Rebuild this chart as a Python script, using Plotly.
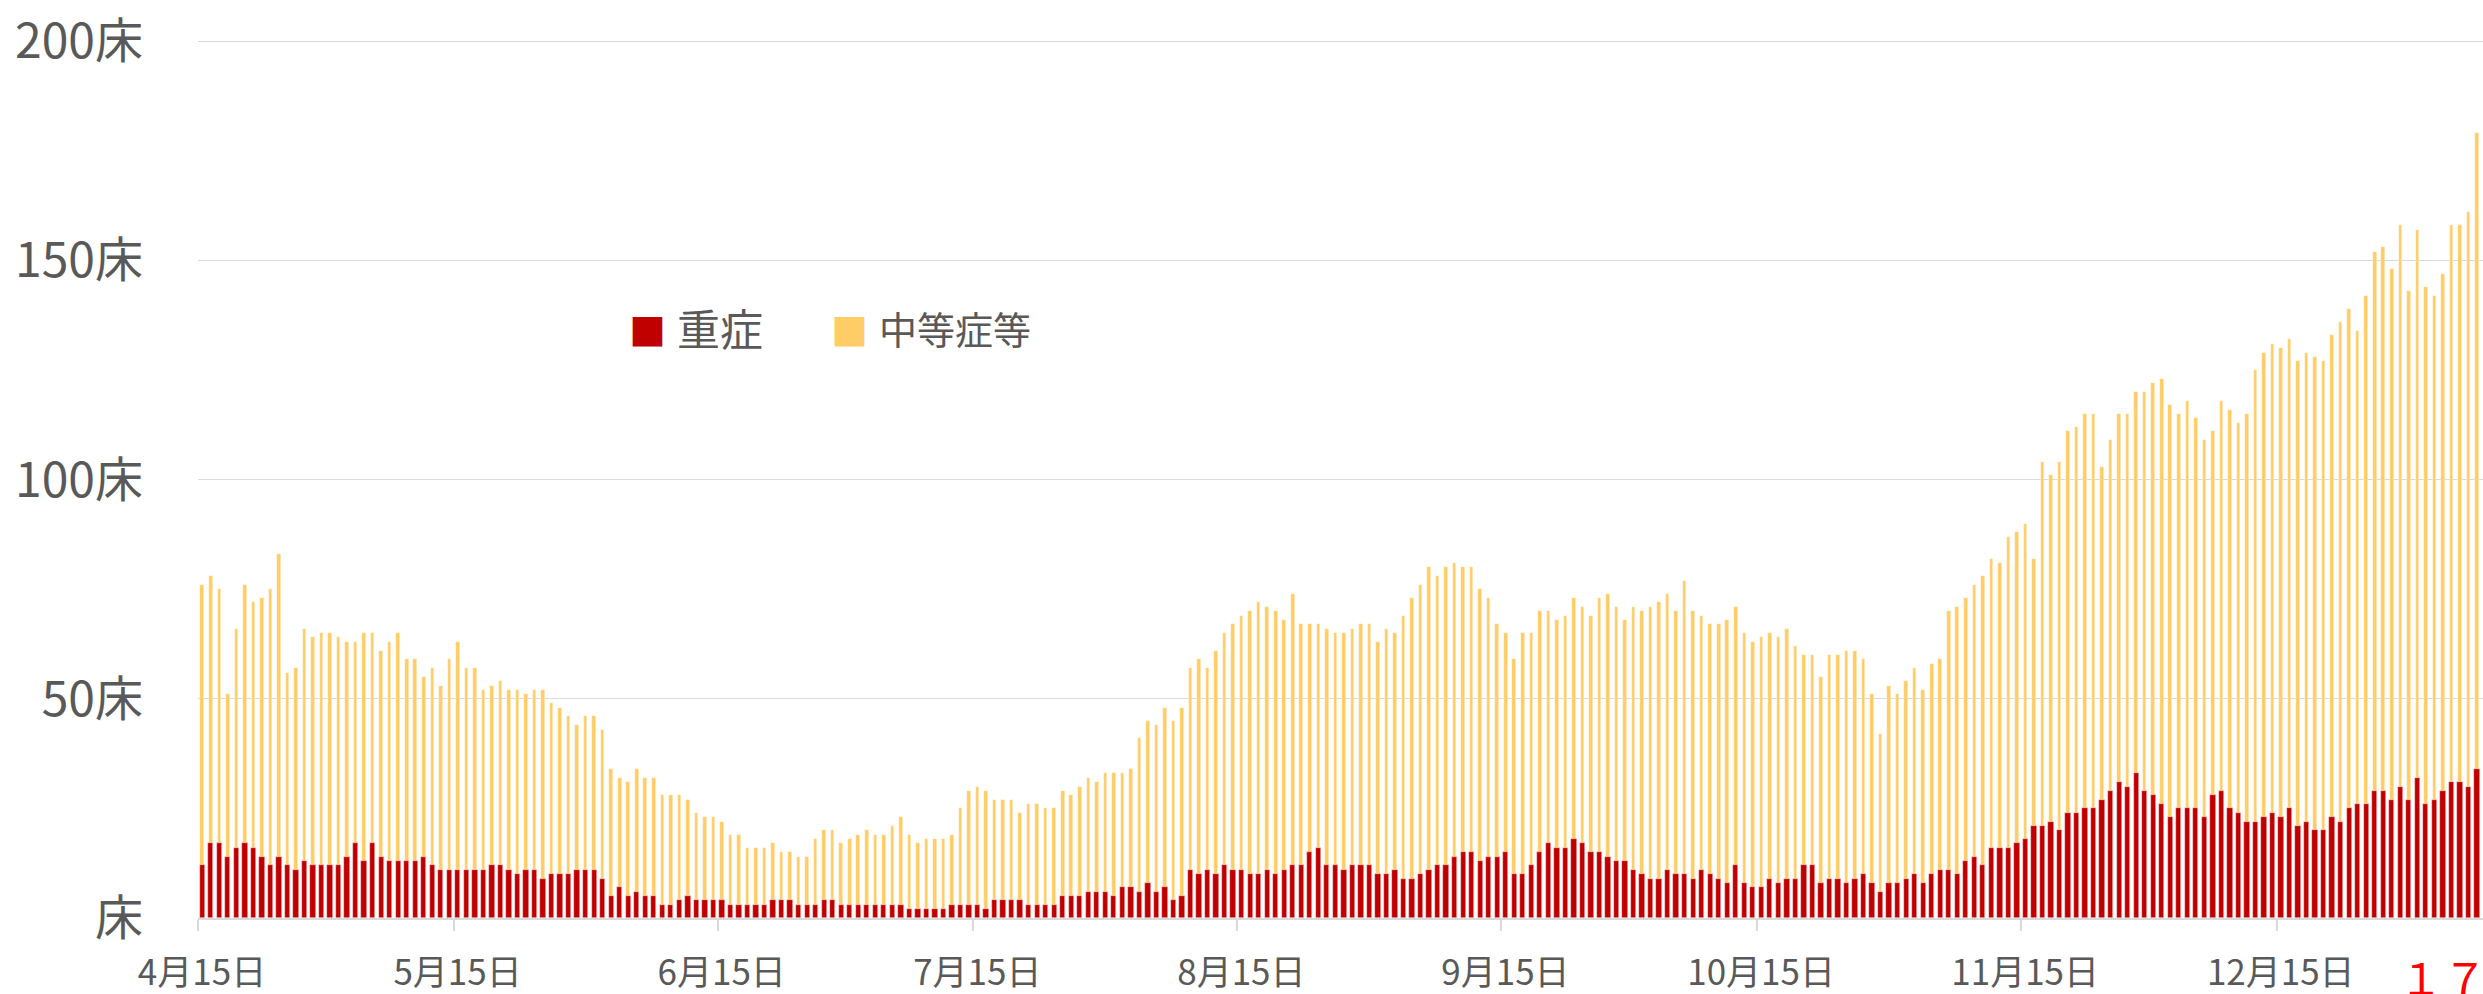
import pandas as pd
import plotly.graph_objects as go

# 重症 (severe) beds per day, from 2020-04-15
severe = [
    12,17,17,14,16,17,16,14,12,14,
    12,11,13,12,12,12,12,14,17,13,
    17,14,13,13,13,13,14,12,11,11,
    11,11,11,11,12,12,11,10,11,11,
    9,10,10,10,11,11,11,9,5,7,
    5,6,5,5,3,3,4,5,4,4,
    4,4,3,3,3,3,3,4,4,4,
    3,3,3,4,4,3,3,3,3,3,
    3,3,3,2,2,2,2,2,3,3,
    3,3,2,4,4,4,4,3,3,3,
    3,5,5,5,6,6,6,5,7,7,
    6,8,6,7,4,5,11,10,11,10,
    12,11,11,10,10,11,10,11,12,12,
    15,16,12,12,11,12,12,12,10,10,
    11,9,9,10,11,12,12,14,15,15,
    13,14,14,15,10,10,12,15,17,16,
    16,18,17,15,15,14,13,13,11,10,
    9,9,11,10,10,9,11,10,9,8,
    12,8,7,7,9,8,9,9,12,12,
    8,9,9,8,9,10,8,6,8,8,
    9,10,8,10,11,11,10,13,14,12,
    16,16,16,17,18,21,21,22,20,24,
    24,25,25,27,29,31,30,33,29,28,
    26,23,25,25,25,23,28,29,25,24,
    22,22,23,24,23,25,21,22,20,20,
    23,22,25,26,26,29,29,27,30,27,
    32,26,27,29,31,31,30,34,
]

# 中等症等 (moderate etc.) beds per day
moderate = [
    64,61,58,37,50,59,56,59,63,69,
    44,46,53,52,53,53,52,49,46,52,
    48,47,50,52,46,46,41,45,42,48,
    52,46,46,41,41,42,41,42,40,41,
    43,39,38,36,33,35,35,34,29,25,
    26,28,27,27,25,25,24,22,20,19,
    19,18,16,16,13,13,13,13,11,11,
    11,11,15,16,16,14,15,16,17,16,
    16,18,20,17,15,16,16,16,16,22,
    26,27,27,23,23,23,20,23,23,22,
    22,24,23,25,26,25,27,28,26,27,
    35,37,38,41,41,43,46,49,46,51,
    53,56,58,60,62,60,60,57,62,55,
    52,51,54,53,54,54,55,55,53,56,
    54,60,64,66,69,66,68,67,65,65,
    62,59,53,50,49,55,53,55,53,52,
    53,55,54,54,58,60,58,55,60,60,
    62,63,63,60,67,61,58,57,58,60,
    59,57,56,57,56,56,57,53,48,48,
    47,51,51,53,52,49,43,36,45,43,
    45,47,44,48,48,59,61,60,62,66,
    66,65,71,71,72,61,83,79,84,87,
    88,90,90,76,80,84,85,87,91,94,
    97,94,90,93,89,86,83,89,91,89,
    93,103,106,107,107,107,106,107,108,107,
    110,114,114,108,116,123,124,121,128,116,
    125,118,115,118,127,127,131,145,
]

start_date = "2020-04-15"
tick_months = [4, 5, 6, 7, 8, 9, 10, 11, 12]
tick_labels = [f"{m}月15日" for m in tick_months]
y_ticks = [0, 50, 100, 150, 200]
y_labels = ["床", "50床", "100床", "150床", "200床"]
series_names = ["重症", "中等症等"]
colors = ["#C00000", "#FFCC66"]
corner_text = "１７"

dates = pd.date_range(start_date, periods=len(severe), freq="D")
day_ms = 86400000
FONT = "Noto Sans CJK JP"
GREY = "#595959"

fig = go.Figure()
fig.add_trace(go.Bar(
    x=dates, y=moderate, base=severe, name=series_names[1],
    marker=dict(color=colors[1], line=dict(color="rgba(255,255,255,0.6)", width=0.6)),
    width=0.42 * day_ms, showlegend=False,
))
fig.add_trace(go.Bar(
    x=dates, y=severe, name=series_names[0],
    marker=dict(color=colors[0], line=dict(color="rgba(255,235,235,0.7)", width=0.6)),
    width=0.62 * day_ms, showlegend=False,
))

tickvals = [pd.Timestamp(2020, m, 15) - pd.Timedelta(hours=12) for m in tick_months]
x_start = dates[0] - pd.Timedelta(hours=12)
x_end = dates[-1] + pd.Timedelta(hours=17)

W, H = 2483, 994
ML, MR, MT, MB = 198, 0, 37, 76
plot_w = W - ML - MR
plot_h = H - MT - MB
Y_MAX = 201

def px_x(px):
    return (px - ML) / plot_w

def px_y(py):
    return (H - MB - py) / plot_h

annotations = [
    dict(x=px_x(647), y=px_y(330), xref="paper", yref="paper", text="■",
         showarrow=False, xanchor="center", yanchor="middle",
         font=dict(family=FONT, size=37, color=colors[0])),
    dict(x=px_x(675), y=px_y(327), xref="paper", yref="paper", text=series_names[0],
         showarrow=False, xanchor="left", yanchor="middle",
         font=dict(family=FONT, size=43, color=GREY)),
    dict(x=px_x(849), y=px_y(330), xref="paper", yref="paper", text="■",
         showarrow=False, xanchor="center", yanchor="middle",
         font=dict(family=FONT, size=37, color=colors[1])),
    dict(x=px_x(877), y=px_y(327), xref="paper", yref="paper", text=series_names[1],
         showarrow=False, xanchor="left", yanchor="middle",
         font=dict(family=FONT, size=38, color=GREY)),
    dict(x=px_x(2443), y=px_y(942), xref="paper", yref="paper", text=corner_text,
         showarrow=False, xanchor="center", yanchor="top",
         font=dict(family=FONT, size=44, color="#FF0000")),
]

fig.update_layout(
    width=W, height=H,
    margin=dict(l=ML, r=MR, t=MT, b=MB, autoexpand=False),
    barmode="overlay",
    bargap=0,
    plot_bgcolor="white", paper_bgcolor="white",
    showlegend=False,
    annotations=annotations,
    xaxis=dict(
        type="date", range=[x_start, x_end],
        tickmode="array", tickvals=tickvals, ticktext=tick_labels,
        ticks="outside", ticklen=11, tickwidth=1.5, tickcolor="#D9D9D9",
        ticklabelshift=4, ticklabelstandoff=12,
        showgrid=False, showline=True, linecolor="#D9D9D9", linewidth=1.5,
        tickfont=dict(family=FONT, size=35, color=GREY),
        zeroline=False,
    ),
    yaxis=dict(
        range=[0, Y_MAX], tickmode="array", tickvals=y_ticks, ticktext=y_labels,
        showgrid=True, gridcolor="#D9D9D9", gridwidth=1.3,
        zeroline=False, showline=False, ticks="",
        ticklabelstandoff=54,
        tickfont=dict(family=FONT, size=48, color=GREY),
    ),
)

fig.write_html(
    "out.html",
    config={"displayModeBar": False},
    post_script="document.body.style.margin='0';document.body.style.overflow='hidden';",
)
